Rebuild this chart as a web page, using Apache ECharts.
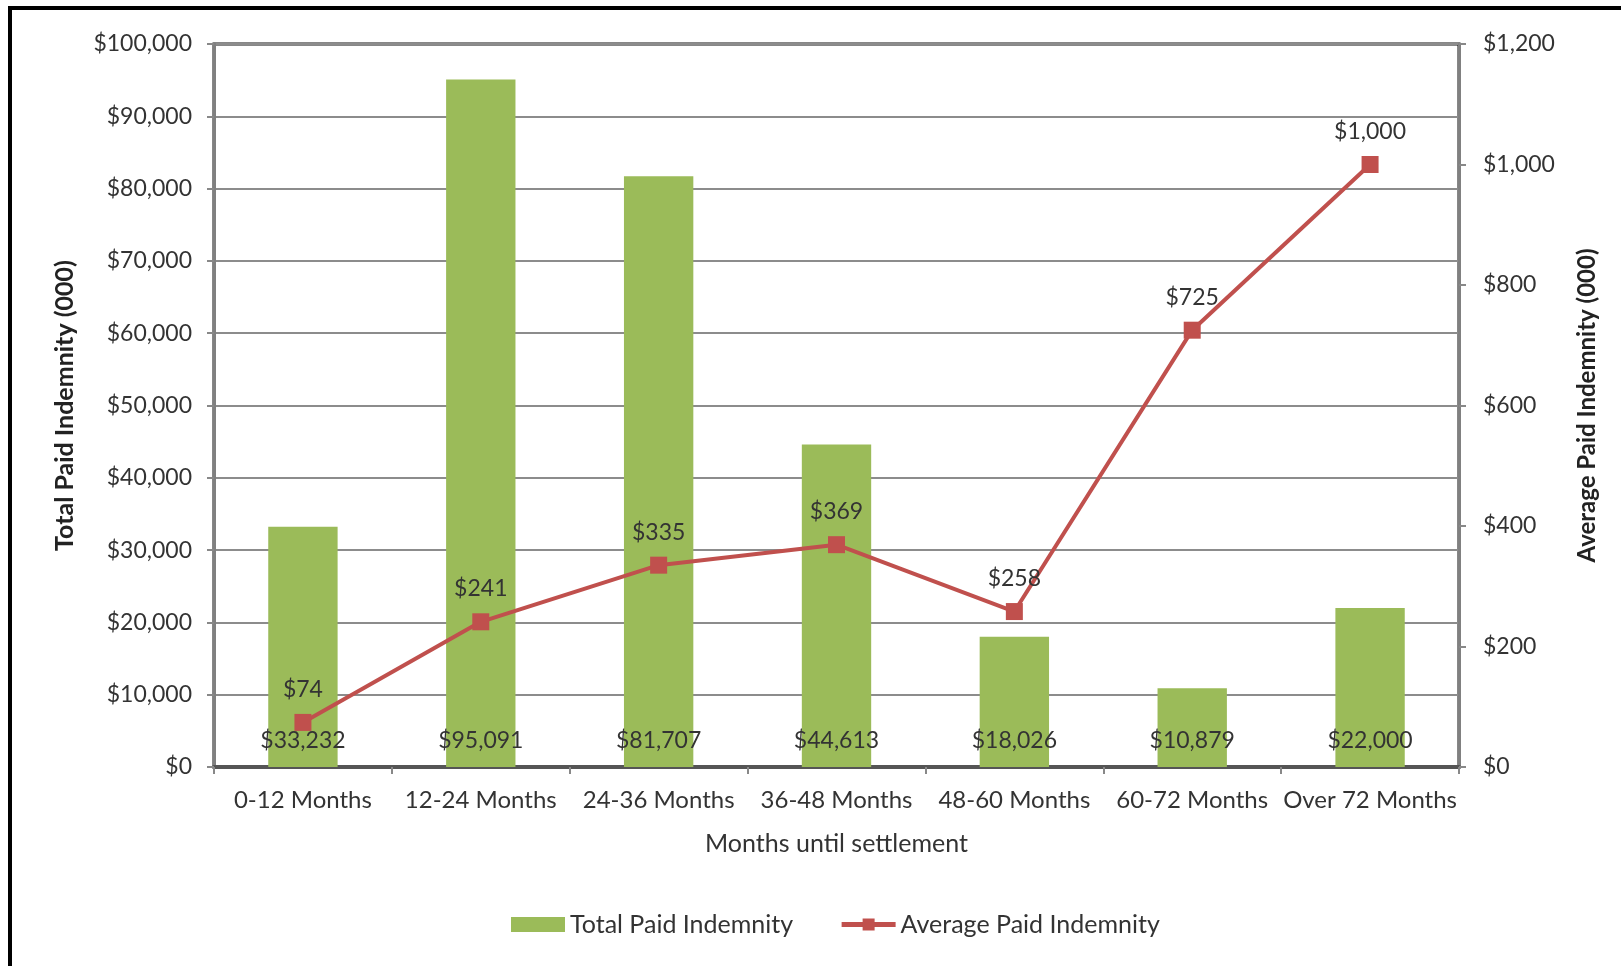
<!DOCTYPE html>
<html>
<head>
<meta charset="utf-8">
<script src="https://cdn.jsdelivr.net/npm/echarts@6/dist/echarts.min.js"></script>
<style>
  html, body { margin: 0; padding: 0; background: #fff; }
  #chart { width: 1621px; height: 966px; }
</style>
</head>
<body>
<div id="chart"></div>
<script>
// data
var categories = ['0-12 Months', '12-24 Months', '24-36 Months', '36-48 Months', '48-60 Months', '60-72 Months', 'Over 72 Months'];
var totalPaid = [33232, 95091, 81707, 44613, 18026, 10879, 22000];
var averagePaid = [74, 241, 335, 369, 258, 725, 1000];

var FONT = 'Lato';
var money = function (v) { return '$' + Number(v).toLocaleString('en-US'); };

var chart = echarts.init(document.getElementById('chart'));

chart.setOption({
  backgroundColor: '#fff',
  textStyle: { fontFamily: FONT },
  animation: false,
  graphic: [
    {
      type: 'polyline',
      shape: { points: [[10, 966], [10, 8], [1621, 8]] },
      style: { stroke: '#000', lineWidth: 4, fill: null },
      z: 100
    }
  ],
  grid: {
    left: 214, right: 162, top: 44, bottom: 199,
    show: true, borderColor: '#111', borderWidth: 3
  },
  legend: {
    bottom: 24,
    left: 506,
    itemGap: 46,
    itemWidth: 54,
    itemHeight: 15,
    textStyle: { fontFamily: FONT, fontSize: 25, color: '#333' },
    data: [
      { name: 'Total Paid Indemnity', icon: 'rect' },
      { name: 'Average Paid Indemnity', lineStyle: { width: 5 } }
    ]
  },
  xAxis: {
    type: 'category',
    data: categories,
    name: 'Months until settlement',
    nameLocation: 'middle',
    nameGap: 64,
    nameTextStyle: { fontFamily: FONT, fontSize: 25, color: '#333' },
    axisLine: { lineStyle: { color: '#555', width: 4 } },
    axisTick: { show: true, length: 7, lineStyle: { color: '#888', width: 2 } },
    axisLabel: { fontFamily: FONT, fontSize: 24, color: '#333', margin: 21, interval: 0 }
  },
  yAxis: [
    {
      type: 'value',
      min: 0, max: 100000, interval: 10000,
      name: 'Total Paid Indemnity (000)',
      nameLocation: 'middle',
      nameRotate: 90,
      nameGap: 137,
      nameTextStyle: { fontFamily: FONT, fontSize: 25, fontWeight: 'bold', color: '#222' },
      axisLine: { show: true, lineStyle: { color: '#808080', width: 3 } },
      axisTick: { show: true, length: 7, lineStyle: { color: '#888', width: 2 } },
      axisLabel: { fontFamily: FONT, fontSize: 23, color: '#333', margin: 22, formatter: money },
      splitLine: { lineStyle: { color: '#8c8c8c', width: 2 } }
    },
    {
      type: 'value',
      min: 0, max: 1200, interval: 200,
      name: 'Average Paid Indemnity (000)',
      nameLocation: 'middle',
      nameRotate: 90,
      nameGap: 116,
      nameTextStyle: { fontFamily: FONT, fontSize: 24, fontWeight: 'bold', color: '#222' },
      axisLine: { show: true, lineStyle: { color: '#808080', width: 3 } },
      axisTick: { show: true, length: 7, lineStyle: { color: '#888', width: 2 } },
      axisLabel: { fontFamily: FONT, fontSize: 23, color: '#333', margin: 24, formatter: money },
      splitLine: { show: false }
    }
  ],
  series: [
    {
      name: 'Total Paid Indemnity',
      type: 'bar',
      data: totalPaid,
      yAxisIndex: 0,
      barWidth: '39%',
      itemStyle: { color: '#9bbb59' },
      label: {
        show: true,
        position: 'insideBottom',
        distance: 15,
        fontFamily: FONT,
        fontSize: 23,
        color: '#333',
        formatter: function (p) { return money(p.value); }
      }
    },
    {
      name: 'Average Paid Indemnity',
      type: 'line',
      data: averagePaid,
      yAxisIndex: 1,
      symbol: 'rect',
      symbolSize: 17,
      itemStyle: { color: '#c0504d' },
      lineStyle: { color: '#c0504d', width: 4 },
      label: {
        show: true,
        position: 'top',
        distance: 13,
        fontFamily: FONT,
        fontSize: 23,
        color: '#333',
        formatter: function (p) { return money(p.value); }
      },
      z: 5
    }
  ]
});
</script>
</body>
</html>
